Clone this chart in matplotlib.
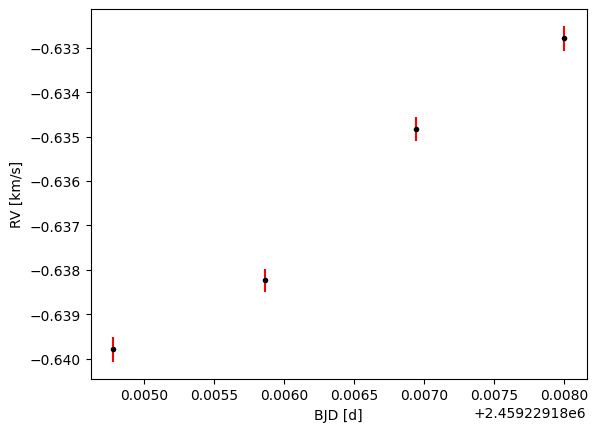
import matplotlib
matplotlib.use("Agg")
import matplotlib.pyplot as plt
import numpy as np

# BJD times and radial velocities
bjd = np.array([2459229.184776, 2459229.185864, 2459229.186943, 2459229.188000])
rv = np.array([-0.639790, -0.638241, -0.634827, -0.632788])
rv_err = np.array([0.000285, 0.000263, 0.000266, 0.000280])

fig, ax = plt.subplots()
ax.errorbar(bjd, rv, yerr=rv_err, fmt='.k', ecolor='r')
ax.set_xlabel("BJD [d]")
ax.set_ylabel("RV [km/s]")

plt.savefig("out.png", bbox_inches='tight')
